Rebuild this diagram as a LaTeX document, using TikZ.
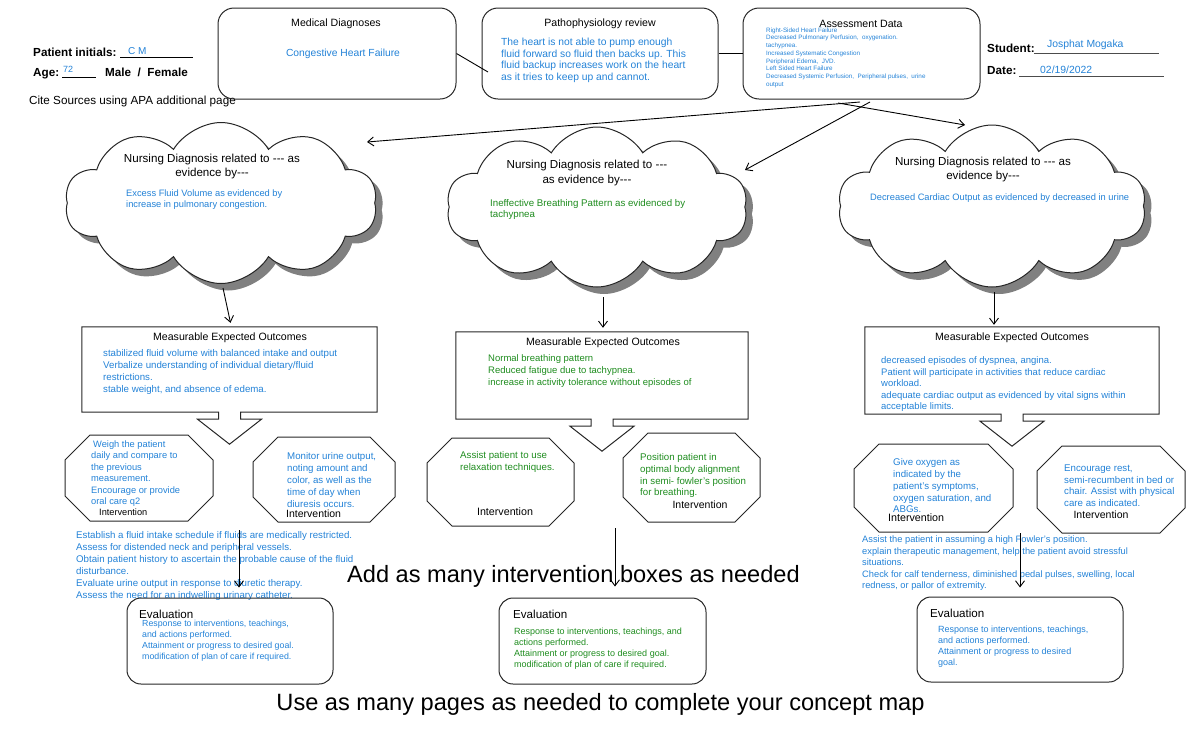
\documentclass[tikz,border=0pt]{standalone}
\usepackage{fontspec}
\setmainfont{Liberation Sans}[Ligatures=TeXOff]
\usetikzlibrary{arrows.meta,positioning,shapes.symbols,calc}

\definecolor{noteblue}{RGB}{35,130,215}
\definecolor{notegreen}{RGB}{30,140,30}

\tikzset{
  boxline/.style={draw=black!85, line width=1pt},
  topbox/.style={boxline, rounded corners=16pt, minimum width=237pt, minimum height=91pt, inner sep=0pt},
  evalbox/.style={boxline, rounded corners=14pt, minimum width=206pt, minimum height=86pt, inner sep=0pt},
  outbox/.style={inner sep=0pt},
  cloudbase/.style={cloud, cloud puffs=10, cloud puff arc=118, cloud ignores aspect, inner sep=0pt},
  nursecloud/.style={cloudbase, boxline, fill=white},
  cloudshadow/.style={cloudbase, fill=black!50},
  heading/.style={inner sep=0pt, align=center, font=\fontsize{10.6}{13}\selectfont},
  label/.style={inner sep=0pt, anchor=base west},
  field/.style={label, font=\bfseries\fontsize{11.7}{14}\selectfont},
  note/.style={inner sep=0pt, anchor=north west, align=left, text=noteblue, font=\fontsize{9.5}{12}\selectfont},
  greennote/.style={note, text=notegreen},
  link/.style={-{Straight Barb[length=6pt,width=9pt]}, line width=0.9pt},
  bigtext/.style={inner sep=0pt, font=\fontsize{23.6}{28}\selectfont},
}

% octagon for an intervention: x1, y1, x2, y2
\newcommand{\interoct}[4]{%
  \draw[boxline] ({#1+25},#2) -- ({#3-25},#2) -- (#3,{#2+25}) -- (#3,{#4-25})
    -- ({#3-25},#4) -- ({#1+25},#4) -- (#1,{#4-25}) -- (#1,{#2+25}) -- cycle;}

% box with a down arrow under it
\newcommand{\outcomeshape}[1]{%
  \draw[boxline] (#1.south west) -- (#1.north west) -- (#1.north east) -- (#1.south east)
    -- ([xshift=11pt]#1.south) -- ([xshift=11pt,yshift=-7pt]#1.south)
    -- ([xshift=32pt,yshift=-7pt]#1.south) -- ([yshift=-32pt]#1.south)
    -- ([xshift=-32pt,yshift=-7pt]#1.south) -- ([xshift=-11pt,yshift=-7pt]#1.south)
    -- ([xshift=-11pt]#1.south) -- cycle;}

\begin{document}
\begin{tikzpicture}[x=1pt,y=-1pt]
    \useasboundingbox (0,0) rectangle (1200,729);

    % Patient fields
    \node[field] (pinit) at (33,56) {Patient initials:};
    \draw[line width=0.8pt] (120,57) -- (193,57);
    \node[label, text=noteblue, font=\fontsize{10}{12}\selectfont] (pinitv) at (128,54) {C M};
    \node[field] (age) at (33,76) {Age:};
    \draw[line width=0.8pt] (62,77.5) -- (96,77.5);
    \node[label, text=noteblue, font=\fontsize{9}{11}\selectfont] (agev) at (63,72) {72};
    \node[field] (sex) at (105,76) {Male~ /~ Female};
    \node[label, font=\fontsize{11.7}{14}\selectfont] (cite) at (29,104) {Cite Sources using APA additional page};

    % Student fields
    \node[field] (student) at (987,52) {Student:};
    \draw[line width=0.8pt, black!70] (1034,53.5) -- (1159,53.5);
    \node[label, text=noteblue, font=\fontsize{10.4}{12}\selectfont] (studentv) at (1047,47) {Josphat Mogaka};
    \node[field] (date) at (987,74) {Date:};
    \draw[line width=0.8pt, black!70] (1019,76) -- (1164,76);
    \node[label, text=noteblue, font=\fontsize{10.4}{12}\selectfont] (datev) at (1040,73) {02/19/2022};

    % Top boxes
    \node[topbox, minimum width=238pt] (med) at (337,53.5) {};
    \node[heading] (medt) at (336,24) {Medical Diagnoses};
    \node[inner sep=0pt, text=noteblue, font=\fontsize{10.3}{12}\selectfont] (medd) at (343,54) {Congestive Heart Failure};

    \node[topbox, minimum width=236pt] (patho) at (600,53.5) {};
    \node[heading] (pathot) at (600,24) {Pathophysiology review};
    \node[note, font=\fontsize{10.3}{11.6}\selectfont] (pathod) at (501,38) {The heart is not able to pump enough\\fluid forward so fluid then backs up. This\\fluid backup increases work on the heart\\as it tries to keep up and cannot.};

    \node[topbox] (assess) at (861.5,53.5) {};
    \node[heading] (assesst) at (861,24) {Assessment Data};
    \node[note, font=\fontsize{6.3}{7.7}\selectfont] (assessd) at (766,27.5) {Right-Sided Heart Failure\\Decreased Pulmonary Perfusion,~ oxygenation.\\tachypnea.\\Increased Systematic Congestion\\Peripheral Edema,~ JVD.\\Left Sided Heart Failure\\Decreased Systemic Perfusion,~ Peripheral pulses,~ urine\\output};

    \coordinate (medout) at (488,72);
    \draw[line width=0.9pt] (med.east) -- (medout);
    \draw[line width=0.9pt] (patho.east) -- (assess.west);

    % Nursing diagnoses (shadow first)
    \node[cloudshadow, minimum width=312pt, minimum height=161pt] (nd1s) at (228,210) {};
    \node[cloudshadow, minimum width=301pt, minimum height=160pt] (nd2s) at (604,214) {};
    \node[cloudshadow, minimum width=308pt, minimum height=162pt] (nd3s) at (999,213) {};
    \node[nursecloud, minimum width=312pt, minimum height=161pt] (nd1) at (221,203) {};
    \node[nursecloud, minimum width=301pt, minimum height=160pt] (nd2) at (597,207) {};
    \node[nursecloud, minimum width=308pt, minimum height=162pt] (nd3) at (992,206) {};

    \node[heading, font=\fontsize{11.6}{13.5}\selectfont] (nd1t) at (212,166.5) {Nursing Diagnosis related to --- as\\evidence by---};
    \node[note, font=\fontsize{9.3}{11}\selectfont] (nd1d) at (126,189.6) {Excess Fluid Volume as evidenced by\\increase in pulmonary congestion.};
    \node[heading, font=\fontsize{11.6}{15}\selectfont] (nd2t) at (587,172.5) {Nursing Diagnosis related to ---\\as evidence by---};
    \node[greennote, font=\fontsize{9.7}{11}\selectfont] (nd2d) at (490,199.5) {Ineffective Breathing Pattern as evidenced by\\tachypnea};
    \node[heading, font=\fontsize{11.6}{14}\selectfont] (nd3t) at (983,169) {Nursing Diagnosis related to --- as\\evidence by---};
    \node[note, font=\fontsize{9.3}{11}\selectfont] (nd3d) at (870,193.6) {Decreased Cardiac Output as evidenced by decreased in urine};

    % Assessment to diagnoses
    \coordinate (ad1) at (860,102);
    \coordinate (ad2) at (870,102);
    \coordinate (ad3) at (838,103);
    \coordinate (nd1in) at (367,142);
    \coordinate (nd2in) at (745,170);
    \coordinate (nd3in) at (965,125);
    \draw[link] (ad1) -- (nd1in);
    \draw[link] (ad2) -- (nd2in);
    \draw[link] (ad3) -- (nd3in);

    % Expected outcomes
    \node[outbox, minimum width=295pt, minimum height=85pt] (meo1) at (229.5,369.5) {};
    \node[outbox, minimum width=292pt, minimum height=87pt] (meo2) at (602,375.5) {};
    \node[outbox, minimum width=294pt, minimum height=87pt] (meo3) at (1012,370.5) {};
    \outcomeshape{meo1}
    \outcomeshape{meo2}
    \outcomeshape{meo3}

    \node[heading] (meo1t) at (230,338) {Measurable Expected Outcomes};
    \node[note, font=\fontsize{9.7}{12}\selectfont] (meo1d) at (103,349.5) {stabilized fluid volume with balanced intake and output\\Verbalize understanding of individual dietary/fluid\\restrictions.\\stable weight, and absence of edema.};
    \node[heading] (meo2t) at (603,343) {Measurable Expected Outcomes};
    \node[greennote] (meo2d) at (488,354.5) {Normal breathing pattern\\Reduced fatigue due to tachypnea.\\increase in activity tolerance without episodes of};
    \node[heading] (meo3t) at (1012,338) {Measurable Expected Outcomes};
    \node[note, font=\fontsize{9.5}{11.5}\selectfont] (meo3d) at (881,356.5) {decreased episodes of dyspnea, angina.\\Patient will participate in activities that reduce cardiac\\workload.\\adequate cardiac output as evidenced by vital signs within\\acceptable limits.};

    \coordinate (nd1out) at (223,288);
    \coordinate (nd2out) at (603,297);
    \coordinate (nd3out) at (994,292);
    \draw[link] (nd1out) -- ([xshift=1pt,yshift=4pt]meo1.north);
    \draw[link] (nd2out) -- ([xshift=1pt,yshift=4pt]meo2.north);
    \draw[link] (nd3out) -- ([xshift=-18pt,yshift=2pt]meo3.north);

    % Interventions
    \interoct{65}{435}{213}{521}
    \interoct{253}{437}{395}{522}
    \interoct{427}{438}{574}{526}
    \interoct{623}{433}{760}{522}
    \interoct{854}{444}{1013}{532}
    \interoct{1037}{446}{1185}{533}

    \node[note, font=\fontsize{9.3}{11.4}\selectfont] (iv1a) at (91,440.5) {\hspace{2pt}Weigh the patient\\daily and compare to\\the previous\\measurement.\\Encourage or provide\\oral care q2};
    \node[label, font=\fontsize{9.2}{11}\selectfont] (iv1al) at (99,515) {Intervention};
    \node[note, font=\fontsize{9.7}{12}\selectfont] (iv1b) at (287,452.5) {Monitor urine output,\\noting amount and\\color, as well as the\\time of day when\\diuresis occurs.};
    \node[label, font=\fontsize{10.5}{12}\selectfont] (iv1bl) at (286,517) {Intervention};

    \node[greennote, font=\fontsize{9.7}{12}\selectfont] (iv2a) at (460,451.5) {Assist patient to use\\relaxation techniques.};
    \node[inner sep=0pt, font=\fontsize{10.7}{12}\selectfont] (iv2al) at (505,512) {Intervention};
    \node[greennote, font=\fontsize{9.7}{11.7}\selectfont] (iv2b) at (640,453.5) {Position patient in\\optimal body alignment\\in semi- fowler’s position\\for breathing.};
    \node[inner sep=0pt, font=\fontsize{10.5}{12}\selectfont] (iv2bl) at (700,505) {Intervention};

    \node[note, font=\fontsize{9.7}{11.8}\selectfont] (iv3a) at (893,458.5) {Give oxygen as\\indicated by the\\patient’s symptoms,\\oxygen saturation, and\\ABGs.};
    \node[label, font=\fontsize{10.7}{12}\selectfont] (iv3al) at (888,521) {Intervention};
    \node[note, font=\fontsize{9.7}{11.8}\selectfont] (iv3b) at (1064,464.5) {Encourage rest,\\semi-recumbent in bed or\\chair. Assist with physical\\care as indicated.};
    \node[inner sep=0pt, font=\fontsize{10.5}{12}\selectfont] (iv3bl) at (1101,515) {Intervention};

    % More interventions
    \node[note, font=\fontsize{9.7}{12}\selectfont] (iv1more) at (76,531.5) {Establish a fluid intake schedule if fluids are medically restricted.\\Assess for distended neck and peripheral vessels.\\Obtain patient history to ascertain the probable cause of the fluid\\disturbance.\\Evaluate urine output in response to diuretic therapy.\\Assess the need for an indwelling urinary catheter.};
    \node[note, font=\fontsize{9.3}{11.5}\selectfont] (iv3more) at (862,535.6) {Assist the patient in assuming a high Fowler’s position.\\explain therapeutic management, help the patient avoid stressful\\situations.\\Check for calf tenderness, diminished pedal pulses, swelling, local\\redness, or pallor of extremity.};

    \node[bigtext] (addmore) at (573.5,576) {Add as many intervention boxes as needed};

    % Evaluation
    \node[evalbox] (ev1) at (230,641) {};
    \node[evalbox, minimum width=207pt] (ev2) at (602.5,641) {};
    \node[evalbox, minimum height=85pt] (ev3) at (1020,639.5) {};

    \node[label, font=\fontsize{11.6}{13}\selectfont] (ev1t) at (139,618) {Evaluation};
    \node[note, font=\fontsize{8.8}{11}\selectfont] (ev1d) at (142,619.8) {Response to interventions, teachings,\\and actions performed.\\Attainment or progress to desired goal.\\modification of plan of care if required.};
    \node[label, font=\fontsize{11.6}{13}\selectfont] (ev2t) at (513,618) {Evaluation};
    \node[greennote, font=\fontsize{9}{11}\selectfont] (ev2d) at (514,627.8) {Response to interventions, teachings, and\\actions performed.\\Attainment or progress to desired goal.\\modification of plan of care if required.};
    \node[label, font=\fontsize{11.6}{13}\selectfont] (ev3t) at (930,617) {Evaluation};
    \node[note, font=\fontsize{9}{11}\selectfont] (ev3d) at (938,625.8) {Response to interventions, teachings,\\and actions performed.\\Attainment or progress to desired\\goal.};

    \coordinate (iv1end) at (239,530);
    \coordinate (iv2end) at (615,528);
    \coordinate (iv3end) at (1020,533);
    \draw[link] (iv1end) -- ([xshift=9pt,yshift=10pt]ev1.north);
    \draw[link] (iv2end) -- ([xshift=12.5pt,yshift=11pt]ev2.north);
    \draw[link] (iv3end) -- ([yshift=9pt]ev3.north);

    \node[bigtext] (morepages) at (600.5,704) {Use as many pages as needed to complete your concept map};
\end{tikzpicture}
\end{document}
